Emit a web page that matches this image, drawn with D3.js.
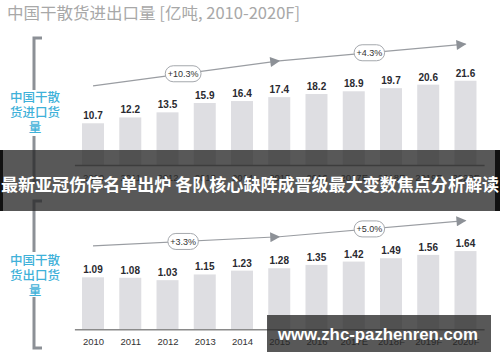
<!DOCTYPE html>
<html><head><meta charset="utf-8">
<script src="https://cdn.jsdelivr.net/npm/d3@7/dist/d3.min.js"></script>
<style>body{margin:0;background:#fff}svg{display:block}</style>
</head><body>
<script>
const years = ["2010","2011","2012","2013","2014","2015","2016","2017E","2018F","2019F","2020F"];
const importValues = [10.7,12.2,13.5,15.9,16.4,17.4,18.2,18.9,19.7,20.6,21.6];
const exportValues = [1.09,1.08,1.03,1.15,1.23,1.28,1.35,1.42,1.49,1.56,1.64];
const importGrowth = [{from:"2010",to:"2015",y0:20.3,y1:26.7,label:"+10.3%"},{from:"2015",to:"2020F",y0:26.7,y1:31.0,label:"+4.3%"}];
const exportGrowth = [{from:"2010",to:"2015",y0:1.75,y1:1.94,label:"+3.3%"},{from:"2015",to:"2020F",y0:1.94,y1:2.28,label:"+5.0%"}];
const titleText = "中国干散货进出口量 [亿吨, 2010-2020F]";
const importLabel = ["中国干散","货进口货","量"];
const exportLabel = ["中国干散","货出口货","量"];
const bannerText = "最新亚冠伤停名单出炉 各队核心缺阵成晋级最大变数焦点分析解读";
const watermark = "www.zhc-pazhenren.com";

const W=500,H=362;
const svg=d3.select("body").append("svg").attr("width",W).attr("height",H);
const defs=svg.append("defs");
defs.append("marker").attr("id","arr").attr("viewBox","0 0 10 10").attr("refX",9).attr("refY",5)
  .attr("markerWidth",13).attr("markerHeight",10).attr("markerUnits","userSpaceOnUse").attr("orient","auto")
  .append("path").attr("d","M0,0L10,5L0,10Z").attr("fill","#8d9197");

svg.append("text").attr("x",7).attr("y",19).attr("font-family","Noto Sans CJK SC, sans-serif")
  .attr("font-size",16).attr("fill","#a8a8a8").attr("textLength",293).attr("lengthAdjust","spacingAndGlyphs")
  .text(titleText);

const x=d3.scalePoint().domain(years).range([74.4,484.1]).padding(0.5);
const barW=22;

function panel(values,growth,yScale,baseY,labelLines,labelY,bracket,fmt){
  const g=svg.append("g");
  const bc="#8c9096";
  g.append("path").attr("d",`M42,${bracket[0]}H34V${bracket[1]}`).attr("fill","none").attr("stroke",bc).attr("stroke-width",3);
  g.append("path").attr("d",`M34,${bracket[2]}V${bracket[3]}H42`).attr("fill","none").attr("stroke",bc).attr("stroke-width",3);
  g.selectAll(".lab").data(labelLines).join("text").attr("x",35).attr("y",(d,i)=>labelY+i*15)
    .attr("text-anchor","middle").attr("font-family","Noto Sans CJK SC, sans-serif").attr("font-size",12.5)
    .attr("font-weight",500).attr("fill","#3fb1d9").text(d=>d);
  g.selectAll("rect.bar").data(values).join("rect").attr("x",(d,i)=>x(years[i])-barW/2)
    .attr("y",d=>yScale(d)).attr("width",barW).attr("height",d=>baseY-yScale(d)).attr("fill","#dedee2");
  g.selectAll("text.val").data(values).join("text").attr("x",(d,i)=>x(years[i]))
    .attr("y",d=>yScale(d)-4).attr("text-anchor","middle").attr("font-family","Liberation Sans, Arial, sans-serif")
    .attr("font-weight","bold").attr("font-size",10).attr("fill","#2a2a30").text(fmt);
  const ax=g.append("g").attr("transform",`translate(0,${baseY})`)
    .call(d3.axisBottom(x).tickSize(0).tickPadding(9));
  ax.select(".domain").attr("stroke","#8a8a8a").attr("stroke-width",1.5);
  ax.selectAll("text").attr("font-family","Liberation Sans, Arial, sans-serif").attr("font-size",9.5).attr("fill","#333");
  growth.forEach(s=>{
    const x0=x(s.from),x1=x(s.to),ya=yScale(s.y0),yb=yScale(s.y1);
    g.append("line").attr("x1",x0).attr("y1",ya).attr("x2",x1).attr("y2",yb)
      .attr("stroke","#9a9da2").attr("stroke-width",1.2).attr("marker-end","url(#arr)");
    const mx=(x0+x1)/2-3, my=ya+(yb-ya)*((mx-x0)/(x1-x0));
    const w=s.label.length*5.3+4;
    g.append("rect").attr("x",mx-w/2).attr("y",my-8).attr("width",w).attr("height",16).attr("rx",8)
      .attr("fill","#fff").attr("stroke","#a5a8ad").attr("stroke-width",1);
    g.append("text").attr("x",mx).attr("y",my+3.3).attr("text-anchor","middle")
      .attr("font-family","Liberation Sans, Arial, sans-serif").attr("font-size",9).attr("fill","#333").text(s.label);
  });
}

const yTop=d3.scaleLinear().domain([0,25]).range([165,165-25*3.9]);
const yBot=d3.scaleLinear().domain([0,2]).range([329.3,329.3-2*47.7]);
panel(importValues,importGrowth,yTop,165,importLabel,102,[38,90,136,182],d=>d.toFixed(1));
panel(exportValues,exportGrowth,yBot,329.3,exportLabel,265,[201,252,297,348],d=>d.toFixed(2));

svg.append("rect").attr("x",0).attr("y",150).attr("width",W).attr("height",61).attr("fill","rgba(38,38,38,0.77)");
svg.append("rect").attr("x",0).attr("y",150).attr("width",3).attr("height",61).attr("fill","#111");
svg.append("rect").attr("x",495).attr("y",150).attr("width",5).attr("height",61).attr("fill","#111");
svg.append("text").attr("x",250).attr("y",191).attr("text-anchor","middle")
  .attr("font-family","Noto Sans CJK SC, sans-serif").attr("font-weight","bold").attr("font-size",17)
  .attr("textLength",498).attr("lengthAdjust","spacingAndGlyphs")
  .attr("fill","#fff").text(bannerText);

svg.append("rect").attr("x",267).attr("y",315).attr("width",224).attr("height",37).attr("fill","rgba(38,38,38,0.77)");
svg.append("text").attr("x",378).attr("y",339.5).attr("text-anchor","middle")
  .attr("font-family","Liberation Sans, Arial, sans-serif").attr("font-weight","bold").attr("font-size",17)
  .attr("textLength",200).attr("lengthAdjust","spacingAndGlyphs")
  .attr("fill","#fff").text(watermark);
</script>
</body></html>
